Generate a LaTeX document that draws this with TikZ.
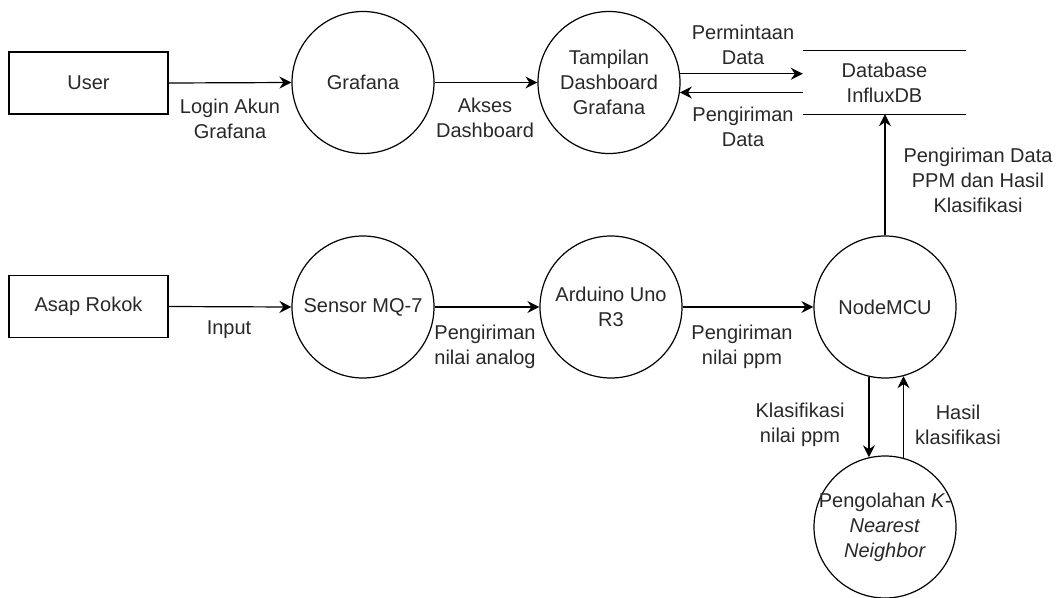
\documentclass[tikz,border=0pt]{standalone}
\usepackage{fontspec}
\setmainfont{Liberation Sans}
\usetikzlibrary{arrows.meta}
\definecolor{txt}{RGB}{40,40,40}
\tikzset{
  base/.style={font=\fontsize{20}{25}\selectfont, text=txt},
  box/.style={base, draw, line width=1.2pt, minimum width=159pt, minimum height=62pt, inner sep=0pt},
  circ/.style={base, draw, circle, line width=1.2pt, minimum size=142pt, inner sep=0pt, align=center},
  lbl/.style={base, align=center, inner sep=0pt},
  conn/.style={line width=1.2pt, -{Stealth[length=12pt,width=12pt,inset=4pt]}},
  plain/.style={line width=1.2pt}
}
\begin{document}
\begin{tikzpicture}[x=1pt,y=-1pt]
\useasboundingbox (0,0) rectangle (1062,597);
% nodes
\node[box] (user) at (88.5,83) {User};
\node[box] (asap) at (88.5,306.5) {Asap Rokok};
\node[circ] (grafana) at (363,82.5) {Grafana};
\node[circ] (tampilan) at (609,82.5) {Tampilan\\Dashboard\\Grafana};
\node[base, align=center, minimum width=163pt, minimum height=63pt, inner sep=0pt] (db) at (884.5,82.5) {Database\\InfluxDB};
\node[circ] (sensor) at (363,307) {Sensor MQ-7};
\node[circ] (arduino) at (611,307) {Arduino Uno\\R3};
\node[circ] (nodemcu) at (885,307) {NodeMCU};
\node[circ, label={[lbl]center:Pengolahan \textit{K-}\\\textit{Nearest}\\\textit{Neighbor}}] (knn) at (885,527) {};
% datastore lines
\draw[plain] (db.north west) -- (db.north east);
\draw[plain] (db.south west) -- (db.south east);
% connectors
\draw[conn] (user.east) -- (grafana.west);
\draw[conn] (grafana.east) -- (tampilan.west);
\draw[conn] (tampilan.7.5) -- (tampilan.7.5 -| db.west);
\draw[conn] (db.west |- tampilan.-8) -- (tampilan.-8);
\draw[conn] (nodemcu.north) -- (nodemcu.north |- db.south);
\draw[conn] (asap.east) -- (sensor.west);
\draw[conn] (sensor.east) -- (arduino.west);
\draw[conn] (arduino.east) -- (nodemcu.west);
\draw[conn] (nodemcu.257) -- (knn.103);
\draw[conn] (knn.75) -- (nodemcu.285);
% labels
\node[lbl] (lLogin) at (230,118.5) {Login Akun\\Grafana};
\node[lbl] (lAkses) at (485,117.5) {Akses\\Dashboard};
\node[lbl] (lPerm) at (743,44.5) {Permintaan\\Data};
\node[lbl] (lPeng) at (743,126.5) {Pengiriman\\Data};
\node[lbl] (lKirim) at (978,180) {Pengiriman Data\\PPM dan Hasil\\Klasifikasi};
\node[lbl] (lInput) at (229,330) {Input};
\node[lbl] (lAnalog) at (485,346.5) {Pengiriman\\nilai analog};
\node[lbl] (lPPM) at (742,347) {Pengiriman\\nilai ppm};
\node[lbl] (lKlas) at (800,424.5) {Klasifikasi\\nilai ppm};
\node[lbl] (lHasil) at (958,424.5) {Hasil\\klasifikasi};
\end{tikzpicture}
\end{document}
